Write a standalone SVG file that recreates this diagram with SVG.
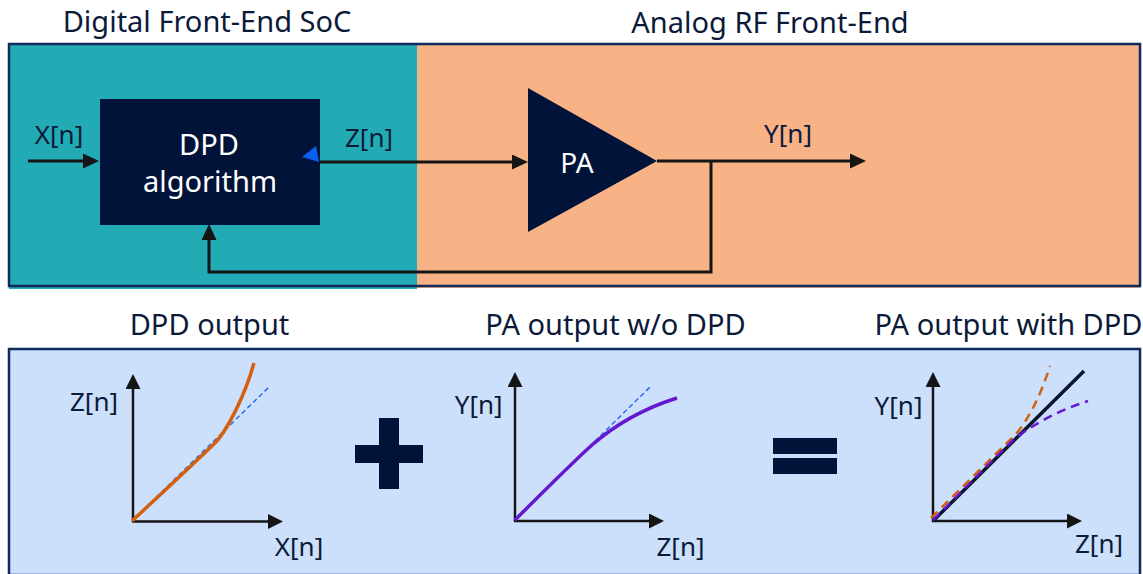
<svg xmlns="http://www.w3.org/2000/svg" width="1143" height="574" viewBox="0 0 1143 574">
  <style>
    .title { font-family: "Noto Sans", "Open Sans", sans-serif; font-size: 29px; fill: #0c1a3a; text-anchor: middle; }
    .lbl { font-family: "Noto Sans", "Open Sans", sans-serif; font-size: 26px; fill: #0c1a3a; text-anchor: middle; }
    .inner { font-family: "Noto Sans", "Open Sans", sans-serif; font-size: 29px; fill: #ffffff; text-anchor: middle; }
    .wire { fill: none; stroke: #151515; stroke-width: 3; }
    .axis { fill: none; stroke: #151515; stroke-width: 2.5; }
    .navy { fill: #02133a; }
    .panel { fill: none; stroke: #0f2a5c; stroke-width: 2.5; }
    .ref { fill: none; stroke: #2d6cf0; stroke-width: 1.5; stroke-dasharray: 5 3; }
    .dash { fill: none; stroke-width: 2.5; stroke-dasharray: 9 6; }
  </style>
  <defs>
    <marker id="head" markerUnits="userSpaceOnUse" markerWidth="16" markerHeight="16" refX="0" refY="7.5" orient="auto">
      <path d="M0,0 L16,7.5 L0,15 Z" fill="#151515"/>
    </marker>
    <marker id="axhead" markerUnits="userSpaceOnUse" markerWidth="16" markerHeight="16" refX="0" refY="7.5" orient="auto">
      <path d="M0,0 L15,7.5 L0,15 Z" fill="#151515"/>
    </marker>
  </defs>

  <rect width="1143" height="574" fill="#ffffff"/>

  <!-- top: digital and analog sections -->
  <g id="digital-section">
    <rect x="9" y="44" width="408" height="245" fill="#22abb5"/>
    <text class="title" x="207" y="32">Digital Front-End SoC</text>
  </g>
  <g id="analog-section">
    <rect x="417" y="44" width="723" height="244" fill="#f7b286"/>
    <text class="title" x="770" y="33">Analog RF Front-End</text>
  </g>
  <rect class="panel" x="9" y="44" width="1131" height="242"/>

  <!-- signal connectors -->
  <g id="connectors">
    <path class="wire" d="M28,161 L83,161" marker-end="url(#head)"/>
    <path class="wire" d="M320,162 L512,162" marker-end="url(#head)"/>
    <path class="wire" d="M657,161 L850,161" marker-end="url(#head)"/>
    <path class="wire" d="M711,161 L711,272 L209,272 L209,240" marker-end="url(#head)"/>
    <text class="lbl" x="59" y="144">X[n]</text>
    <text class="lbl" x="369" y="147">Z[n]</text>
    <text class="lbl" x="788" y="143">Y[n]</text>
  </g>

  <g id="dpd-block">
    <rect class="navy" x="100" y="99" width="220" height="126"/>
    <text class="inner" x="209" y="155">DPD</text>
    <text class="inner" x="210" y="192">algorithm</text>
    <polygon points="302,157 316,146 319,162" fill="#0a5ef0"/>
  </g>

  <g id="pa-block">
    <polygon class="navy" points="528,88 528,232 657,161"/>
    <text class="inner" x="577" y="173" style="font-size:28px">PA</text>
  </g>

  <!-- bottom: transfer characteristics -->
  <g id="curves-panel">
    <rect x="9" y="349" width="1131" height="226" fill="#cce0fc" stroke="#0f2a5c" stroke-width="2.5"/>
    <text class="title" x="209.5" y="335">DPD output</text>
    <text class="title" x="615.5" y="335">PA output w/o DPD</text>
    <text class="title" x="1008.5" y="335">PA output with DPD</text>
  </g>

  <g id="chart-dpd">
    <path class="axis" d="M133,522 L133,389" marker-end="url(#axhead)"/>
    <path class="axis" d="M132,521.5 L268,521.5" marker-end="url(#axhead)"/>
    <path class="ref" d="M133,520 L269,387"/>
    <path d="M132,521 C160,495 190,467 213,445 C227,432 245,395 254,363" fill="none" stroke="#d4600f" stroke-width="3.5"/>
    <text class="lbl" x="94" y="411">Z[n]</text>
    <text class="lbl" x="299" y="556">X[n]</text>
  </g>

  <g id="plus-sign">
    <rect class="navy" x="355" y="445" width="68" height="18"/>
    <rect class="navy" x="379" y="418" width="20" height="71"/>
  </g>

  <g id="chart-pa">
    <path class="axis" d="M515,522 L515,387" marker-end="url(#axhead)"/>
    <path class="axis" d="M514,521 L649,521" marker-end="url(#axhead)"/>
    <path class="ref" d="M515,520 L651,386"/>
    <path d="M515,520 C550,485 575,460 592,445 C615,425 645,408 677,398" fill="none" stroke="#6418d0" stroke-width="3.5"/>
    <text class="lbl" x="478.7" y="414">Y[n]</text>
    <text class="lbl" x="680.5" y="556">Z[n]</text>
  </g>

  <g id="equals-sign">
    <rect class="navy" x="773" y="438" width="64" height="16"/>
    <rect class="navy" x="773" y="458" width="64" height="16"/>
  </g>

  <g id="chart-linearized">
    <path class="axis" d="M933,522 L933,387" marker-end="url(#axhead)"/>
    <path class="axis" d="M932,521 L1067,521" marker-end="url(#axhead)"/>
    <path d="M933,521 L1084,371" fill="none" stroke="#0b1530" stroke-width="3.5"/>
    <path class="dash" d="M931,518 L1016,434 Q1036,410 1050,366" stroke="#d4600f"/>
    <path class="dash" d="M933,520 L1013,440 Q1045,415 1088,401" stroke="#6418d0"/>
    <text class="lbl" x="898.5" y="415">Y[n]</text>
    <text class="lbl" x="1099" y="553">Z[n]</text>
  </g>
</svg>
